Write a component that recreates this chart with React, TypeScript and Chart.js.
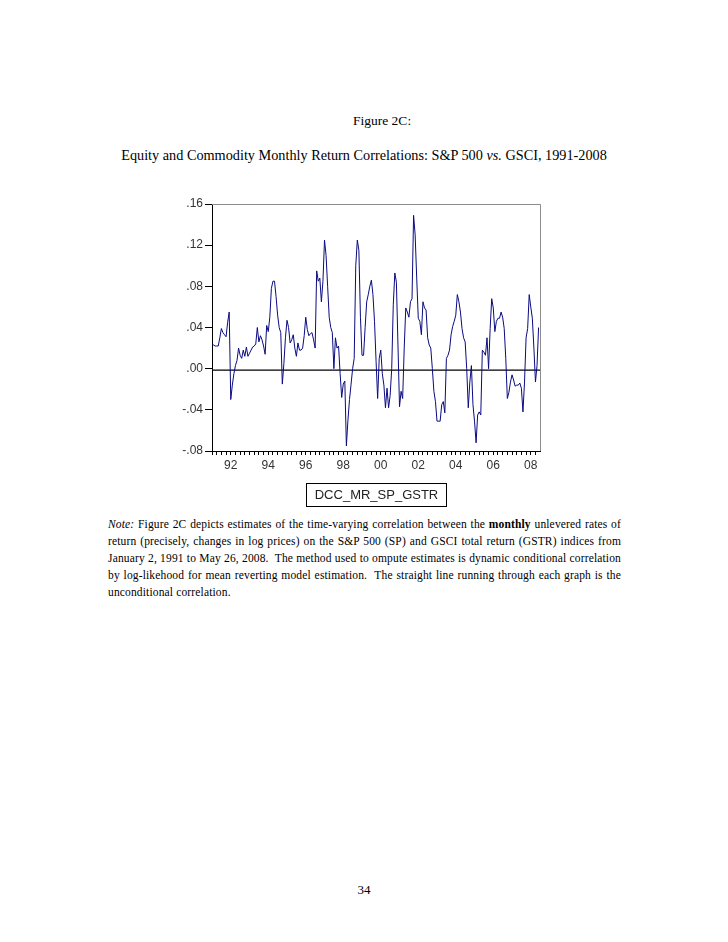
import React, { useEffect, useRef } from 'react';
import { Chart, registerables } from 'chart.js';

Chart.register(...registerables);

// Monthly DCC correlation estimates, S&P 500 vs GSCI total return, from Jan 1991
const DCC_MR_SP_GSTR: number[] = [
  0.023, 0.023, 0.022, 0.022, 0.022, 0.030, 0.039, 0.035, 0.033, 0.031, 0.045, 0.055,
  -0.030, -0.016, -0.005, 0.003, 0.008, 0.020, 0.013, 0.010, 0.018, 0.012, 0.021, 0.012,
  0.015, 0.018, 0.021, 0.022, 0.024, 0.040, 0.026, 0.032, 0.028, 0.022, 0.014, 0.042,
  0.036, 0.050, 0.078, 0.085, 0.085, 0.070, 0.052, 0.040, 0.035, -0.015, 0.005, 0.030,
  0.047, 0.040, 0.025, 0.028, 0.033, 0.020, 0.012, 0.025, 0.018, 0.018, 0.020, 0.032,
  0.050, 0.038, 0.032, 0.034, 0.035, 0.028, 0.020, 0.095, 0.085, 0.088, 0.065, 0.085,
  0.125, 0.110, 0.080, 0.050, 0.040, 0.035, 0.000, 0.030, 0.020, 0.022, -0.005, -0.028,
  -0.015, -0.012, -0.075, -0.050, -0.030, -0.015, 0.000, 0.010, 0.100, 0.125, 0.115, 0.050,
  0.013, 0.013, 0.040, 0.065, 0.072, 0.080, 0.086, 0.072, 0.046, 0.007, -0.029, 0.010,
  0.018, -0.005, -0.016, -0.038, -0.019, -0.038, -0.026, 0.000, 0.062, 0.093, 0.084, 0.023,
  -0.037, -0.022, -0.029, 0.020, 0.059, 0.055, 0.050, 0.065, 0.068, 0.149, 0.130, 0.088,
  0.049, 0.046, 0.033, 0.065, 0.059, 0.057, 0.030, 0.023, 0.020, 0.000, -0.022, -0.032,
  -0.051, -0.051, -0.051, -0.035, -0.032, -0.043, 0.010, 0.013, 0.018, 0.033, 0.041, 0.046,
  0.052, 0.072, 0.065, 0.055, 0.039, 0.030, 0.026, 0.000, -0.038, -0.013, 0.003, -0.035,
  -0.051, -0.072, -0.045, -0.042, -0.045, 0.018, 0.016, 0.013, 0.030, 0.000, 0.039, 0.068,
  0.059, 0.036, 0.046, 0.049, 0.049, 0.055, 0.050, 0.039, 0.010, -0.029, -0.023, -0.013,
  -0.006, -0.011, -0.017, -0.016, -0.016, -0.014, -0.019, -0.042, -0.013, 0.030, 0.039, 0.072,
  0.060, 0.049, 0.020, -0.013, 0.003, 0.040,
];

const UNCONDITIONAL_CORR = -0.0015;

const YEAR_LABELS: string[] = ['92', '94', '96', '98', '00', '02', '04', '06', '08'];
const YEAR_LABEL_MONTHS: number[] = [12, 36, 60, 84, 108, 132, 156, 180, 204];
const MINOR_TICK_STEP = 3;
const X_MAX = 209.9;

const Y_TICKS: number[] = [-0.08, -0.04, 0, 0.04, 0.08, 0.12, 0.16];
const Y_TICK_LABELS: string[] = ['-.08', '-.04', '.00', '.04', '.08', '.12', '.16'];

const framePlugin = {
  id: 'frameTopRight',
  afterDraw(chart: any) {
    const { ctx, chartArea } = chart;
    const { left, right, top, bottom } = chartArea;
    ctx.save();
    ctx.strokeStyle = '#8c8c8c';
    ctx.lineWidth = 1;
    ctx.beginPath();
    ctx.moveTo(Math.round(left), Math.round(top) + 0.5);
    ctx.lineTo(Math.round(right) + 0.5, Math.round(top) + 0.5);
    ctx.lineTo(Math.round(right) + 0.5, Math.round(bottom));
    ctx.stroke();
    ctx.restore();
  },
};

function DccChart() {
  const ref = useRef<HTMLCanvasElement | null>(null);
  useEffect(() => {
    if (!ref.current) return;
    const series = DCC_MR_SP_GSTR.map((v, i) => ({ x: i, y: v }));
    const flat = [
      { x: 0, y: UNCONDITIONAL_CORR },
      { x: X_MAX, y: UNCONDITIONAL_CORR },
    ];
    const minorTicks: number[] = [];
    for (let m = 0; m <= X_MAX; m += MINOR_TICK_STEP) minorTicks.push(m);

    const chart = new Chart(ref.current, {
      type: 'line',
      data: {
        datasets: [
          {
            label: 'DCC_MR_SP_GSTR',
            data: series,
            borderColor: '#0a0a80',
            borderWidth: 1,
            pointRadius: 0,
            tension: 0,
            fill: false,
          },
          {
            label: 'Unconditional',
            data: flat,
            borderColor: '#000000',
            borderWidth: 1.2,
            pointRadius: 0,
            tension: 0,
            fill: false,
          },
        ],
      },
      options: {
        responsive: false,
        animation: false,
        events: [],
        layout: { padding: { top: 10, right: 10, left: 0, bottom: 0 } },
        plugins: {
          legend: { display: false },
          tooltip: { enabled: false },
          title: { display: false },
        },
        scales: {
          x: {
            type: 'linear',
            min: 0,
            max: X_MAX,
            afterBuildTicks: (scale: any) => {
              scale.ticks = minorTicks.map((v) => ({ value: v }));
            },
            afterFit: (scale: any) => {
              scale.height = 37;
            },
            ticks: {
              autoSkip: false,
              maxRotation: 0,
              minRotation: 0,
              padding: 3,
              color: '#333333',
              font: { family: 'Liberation Sans', size: 12 },
              callback: (value: any) => {
                const k = YEAR_LABEL_MONTHS.indexOf(Number(value));
                return k >= 0 ? YEAR_LABELS[k] : '';
              },
            },
            grid: {
              display: true,
              drawOnChartArea: false,
              drawTicks: true,
              tickLength: 4,
              color: '#000000',
              lineWidth: 1,
            },
            border: { display: true, color: '#000000', width: 1 },
          },
          y: {
            type: 'linear',
            min: -0.08,
            max: 0.16,
            afterBuildTicks: (scale: any) => {
              scale.ticks = Y_TICKS.map((v) => ({ value: v }));
            },
            afterFit: (scale: any) => {
              scale.width = 72;
            },
            ticks: {
              padding: 2,
              color: '#333333',
              font: { family: 'Liberation Sans', size: 12 },
              callback: (value: any) => {
                const k = Y_TICKS.findIndex((t) => Math.abs(t - Number(value)) < 1e-9);
                return k >= 0 ? Y_TICK_LABELS[k] : '';
              },
            },
            grid: {
              display: true,
              drawOnChartArea: false,
              drawTicks: true,
              tickLength: 7,
              color: '#000000',
              lineWidth: 1,
            },
            border: { display: true, color: '#000000', width: 1 },
          },
        },
      },
      plugins: [framePlugin],
    } as any);
    return () => chart.destroy();
  }, []);
  return (
    <canvas
      ref={ref}
      width={410}
      height={294}
      style={{ position: 'absolute', left: 140, top: 194, width: 410, height: 294 }}
    />
  );
}

const serif = '"Liberation Serif", "Times New Roman", serif';
const sans = '"Liberation Sans", Arial, sans-serif';

const NOTE_LINES: React.ReactNode[] = [
  <>
    <i>Note:</i> Figure 2C depicts estimates of the time-varying correlation between the <b>monthly</b> unlevered rates of
  </>,
  <>return (precisely, changes in log prices) on the S&amp;P 500 (SP) and GSCI total return (GSTR) indices from</>,
  <>January 2, 1991 to May 26, 2008.&nbsp; The method used to ompute estimates is dynamic conditional correlation</>,
  <>by log-likehood for mean reverting model estimation.&nbsp; The straight line running through each graph is the</>,
  <>unconditional correlation.</>,
];

export default function App() {
  return (
    <div
      style={{
        position: 'absolute',
        left: 0,
        top: 0,
        width: 728,
        height: 942,
        background: '#ffffff',
        color: '#000000',
        overflow: 'hidden',
      }}
    >
      <div
        style={{
          position: 'absolute',
          left: 353,
          top: 113,
          fontFamily: serif,
          fontSize: 13.5,
          lineHeight: '16px',
          whiteSpace: 'nowrap',
        }}
      >
        Figure 2C:
      </div>
      <div
        style={{
          position: 'absolute',
          left: 0,
          width: 728,
          top: 147,
          textAlign: 'center',
          fontFamily: serif,
          fontSize: 14.25,
          lineHeight: '16px',
          whiteSpace: 'nowrap',
        }}
      >
        Equity and Commodity Monthly Return Correlations: S&amp;P 500 <i>vs.</i> GSCI, 1991-2008
      </div>

      <DccChart />

      <div
        style={{
          position: 'absolute',
          left: 306,
          top: 483,
          width: 139,
          height: 22,
          border: '1px solid #000',
          fontFamily: sans,
          fontSize: 13,
          lineHeight: '22px',
          textAlign: 'center',
          color: '#222',
        }}
      >
        DCC_MR_SP_GSTR
      </div>

      <div
        style={{
          position: 'absolute',
          left: 108,
          top: 516,
          width: 513,
          fontFamily: serif,
          fontSize: 11.5,
          lineHeight: '17px',
          letterSpacing: '0.15px',
        }}
      >
        {NOTE_LINES.map((line, i) => (
          <div
            key={i}
            style={{
              textAlign: 'justify',
              textAlignLast: i < NOTE_LINES.length - 1 ? 'justify' : 'left',
              whiteSpace: 'normal',
            }}
          >
            {line}
          </div>
        ))}
      </div>

      <div
        style={{
          position: 'absolute',
          left: 0,
          width: 728,
          top: 882,
          textAlign: 'center',
          fontFamily: serif,
          fontSize: 13,
          lineHeight: '16px',
        }}
      >
        34
      </div>
    </div>
  );
}
